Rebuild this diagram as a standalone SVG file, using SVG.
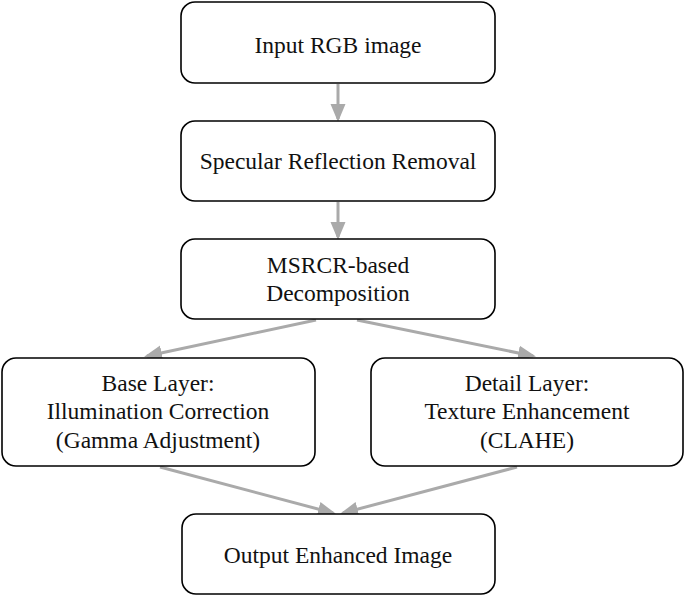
<svg xmlns="http://www.w3.org/2000/svg" width="685" height="597" viewBox="0 0 685 597">
<style>
.box{fill:#fff;stroke:#000;stroke-width:1.6}
.t{font-family:"Liberation Serif","Times New Roman",serif;font-size:23.5px;fill:#111;text-anchor:middle}
.c{stroke:#aaa;stroke-width:3;fill:none;marker-end:url(#ah)}
</style>
<defs>
<marker id="ah" markerWidth="6" markerHeight="6" refX="5" refY="3" orient="auto" markerUnits="strokeWidth">
<path d="M0,0.5 L6,3 L0,5.5 Z" fill="#aaa"/>
</marker>
</defs>
<rect width="685" height="597" fill="#fff"/>
<g id="connectors">
<line class="c" x1="338" y1="84" x2="338" y2="119"/>
<line class="c" x1="338" y1="202" x2="338" y2="237"/>
<line class="c" x1="316" y1="320" x2="147" y2="356"/>
<line class="c" x1="357" y1="320" x2="533" y2="356"/>
<line class="c" x1="160" y1="467" x2="333" y2="513"/>
<line class="c" x1="517" y1="467" x2="343" y2="513"/>
</g>
<g id="n1"><rect class="box" x="181" y="2" width="314" height="81" rx="14"/><text class="t" x="338" y="53">Input RGB image</text></g>
<g id="n2"><rect class="box" x="181" y="121" width="314" height="80" rx="14"/><text class="t" x="338" y="169">Specular Reflection Removal</text></g>
<g id="n3"><rect class="box" x="181" y="239" width="314" height="80" rx="14"/><text class="t" x="338" y="273">MSRCR-based</text><text class="t" x="338" y="301">Decomposition</text></g>
<g id="n4"><rect class="box" x="2" y="358" width="313" height="108" rx="14"/><text class="t" x="158" y="391">Base Layer:</text><text class="t" x="158" y="419">Illumination Correction</text><text class="t" x="158" y="448">(Gamma Adjustment)</text></g>
<g id="n5"><rect class="box" x="371" y="358" width="312" height="108" rx="14"/><text class="t" x="527" y="391">Detail Layer:</text><text class="t" x="527" y="419">Texture Enhancement</text><text class="t" x="527" y="448">(CLAHE)</text></g>
<g id="n6"><rect class="box" x="182" y="514" width="313" height="80" rx="14"/><text class="t" x="338" y="563">Output Enhanced Image</text></g>
</svg>
